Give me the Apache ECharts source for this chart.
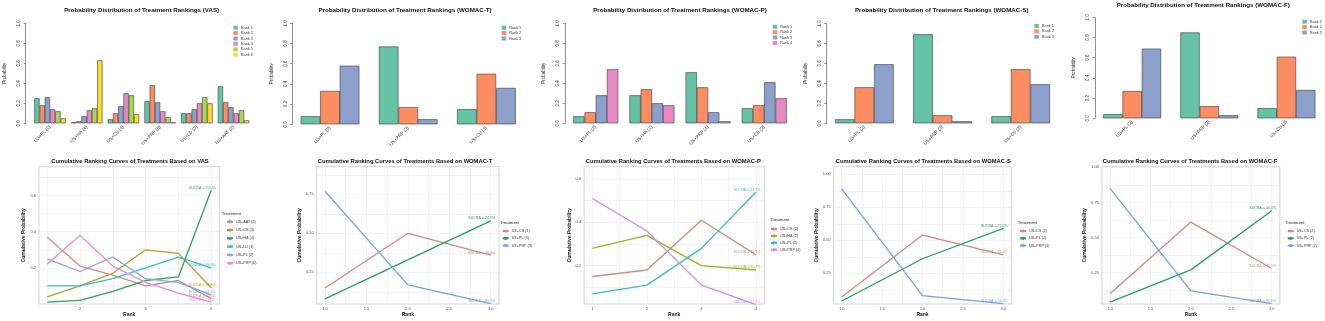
<!DOCTYPE html>
<html><head><meta charset="utf-8">
<script src="https://cdn.jsdelivr.net/npm/echarts@6/dist/echarts.min.js"></script>
<style>html,body{margin:0;padding:0;background:#fff}#c{width:1325px;height:321px}</style>
</head><body><div id="c"></div>
<script>
// ================= DATA =================
const rankNames = ['Rank 1', 'Rank 2', 'Rank 3', 'Rank 4', 'Rank 5', 'Rank 6'];

// VAS (6 treatments x 6 ranks)
const vasTreatments = ['US+PL (2)', 'US+HA (4)', 'US+CS (4)', 'US+PRP (6)', 'US+LD (3)', 'US+AAT (2)'];
const vasRankProb = [
  [0.25, 0.18, 0.26, 0.14, 0.12, 0.05],
  [0.01, 0.02, 0.07, 0.13, 0.15, 0.63],
  [0.04, 0.10, 0.17, 0.30, 0.28, 0.09],
  [0.22, 0.38, 0.21, 0.12, 0.06, 0.01],
  [0.10, 0.10, 0.14, 0.20, 0.26, 0.20],
  [0.37, 0.21, 0.16, 0.10, 0.13, 0.03]
];
const vasCurveNames = ['US+AAT (2)', 'US+CS (4)', 'US+HA (4)', 'US+LD (3)', 'US+PL (2)', 'US+PRP (6)'];
const vasSucra = ['SUCRA = 70.0%', 'SUCRA = 39.8%', 'SUCRA = 15.0%', 'SUCRA = 39.6%', 'SUCRA = 63.0%', 'SUCRA = 71.0%'];

// WOMAC-T
const womacTTreatments = ['US+PL (3)', 'US+PRP (3)', 'US+CS (3)'];
const womacTRankProb = [
  [0.08, 0.33, 0.58],
  [0.77, 0.17, 0.05],
  [0.15, 0.50, 0.36]
];
const womacTCurveNames = ['US+CS (3)', 'US+PL (3)', 'US+PRP (3)'];
const womacTSucra = ['SUCRA = 40.0%', 'SUCRA = 24.5%', 'SUCRA = 85.5%'];

// WOMAC-P
const womacPTreatments = ['US+PL (2)', 'US+HA (2)', 'US+PRP (4)', 'US+CS (2)'];
const womacPRankProb = [
  [0.07, 0.11, 0.28, 0.54],
  [0.28, 0.34, 0.20, 0.18],
  [0.51, 0.36, 0.11, 0.02],
  [0.15, 0.18, 0.41, 0.25]
];
const womacPCurveNames = ['US+CS (2)', 'US+HA (2)', 'US+PL (2)', 'US+PRP (4)'];
const womacPSucra = ['SUCRA = 39.7%', 'SUCRA = 55.7%', 'SUCRA = 21.7%', 'SUCRA = 77.7%'];

// WOMAC-S
const womacSTreatments = ['US+PL (2)', 'US+PRP (3)', 'US+CS (2)'];
const womacSRankProb = [
  [0.04, 0.36, 0.59],
  [0.89, 0.08, 0.02],
  [0.07, 0.54, 0.39]
];
const womacSCurveNames = ['US+CS (2)', 'US+PL (2)', 'US+PRP (3)'];
const womacSSucra = ['SUCRA = 33.0%', 'SUCRA = 21.0%', 'SUCRA = 93.0%'];

// WOMAC-F
const womacFTreatments = ['US+PL (2)', 'US+PRP (2)', 'US+CS (2)'];
const womacFRankProb = [
  [0.04, 0.27, 0.69],
  [0.85, 0.12, 0.03],
  [0.10, 0.61, 0.28]
];
const womacFCurveNames = ['US+CS (2)', 'US+PL (2)', 'US+PRP (2)'];
const womacFSucra = ['SUCRA = 40.5%', 'SUCRA = 16.0%', 'SUCRA = 91.0%'];

// Tick labels
const vasRankTicks = [2, 4, 6];
const vasRankMinor = [1, 3, 5];
const rank3Ticks = [1, 1.5, 2, 2.5, 3];
const rank3Minor = [1.25, 1.75, 2.25, 2.75];
const rank4Ticks = [1, 2, 3, 4];
const rank4Minor = [1.5, 2.5, 3.5];
const prob02Ticks = [0.2, 0.4, 0.6];
const prob02Minor = [0.1, 0.3, 0.5, 0.7];
const prob025Ticks = [0.25, 0.5, 0.75, 1.0];
const prob025Minor = [0.125, 0.375, 0.625, 0.875];

// ================= STYLE / LAYOUT =================
const FONT = 'Liberation Sans';
const set2 = ['#66C2A5', '#FC8D62', '#8DA0CB', '#E78AC3', '#A6D854', '#FFD92F'];
const hue6 = ['#CC8A80', '#ADA130', '#27A35C', '#36BDC0', '#7FA9DB', '#E389E1'];
const hue4 = ['#CC8A80', '#9AB320', '#36BDC0', '#C78FE6'];
const hue3 = ['#CC8A80', '#23A25A', '#72A6DA'];

const option = {
  animation: false, backgroundColor: '#ffffff',
  textStyle: { fontFamily: FONT },
  title: [], grid: [], xAxis: [], yAxis: [], legend: [], series: []
};

function addTitle(text, cx, cy, size, weight) {
  option.title.push({
    text, left: cx, top: cy - size / 2 - 0.5, textAlign: 'center', padding: 0,
    textStyle: { fontSize: size, fontWeight: weight || 'bold', color: '#111', fontFamily: FONT }
  });
}

function addBarPanel(key, title, treat, prob, L) {
  const gi = option.grid.length;
  const nT = treat.length, nR = prob[0].length;
  const range = nT * (nR + 1) - 1;
  const u = (L.lastR - L.firstL) / range;
  option.grid.push({ left: L.firstL - 0.5 * u, top: L.y1, width: nT * (nR + 1) * u, height: L.y0 - L.y1 });
  option.xAxis.push({
    gridIndex: gi, type: 'category', data: treat,
    axisLine: { show: false }, axisTick: { show: false }, splitLine: { show: false },
    axisLabel: { rotate: 45, fontSize: 4.6, color: '#333', margin: 3, interval: 0 }
  });
  option.yAxis.push({
    gridIndex: gi, type: 'value', min: 0, max: 1, interval: 0.2,
    offset: 0.04 * range * u - 0.5 * u,
    axisLine: { show: true, lineStyle: { color: '#444', width: 0.6 } },
    axisTick: { show: true, length: 2, lineStyle: { color: '#444', width: 0.6 } },
    axisLabel: { rotate: 90, fontSize: 4.5, color: '#333', margin: 4, formatter: v => v.toFixed(1) },
    splitLine: { show: false },
    name: 'Probability', nameLocation: 'middle', nameRotate: 90, nameGap: 18,
    nameTextStyle: { fontSize: 4.5, color: '#333' }
  });
  const names = [];
  for (let r = 0; r < nR; r++) {
    const nm = rankNames[r] + '#' + key;
    names.push(nm);
    option.series.push({
      type: 'bar', name: nm, xAxisIndex: gi, yAxisIndex: gi,
      data: prob.map(row => row[r]),
      barGap: '0%', barCategoryGap: (100 / (nR + 1)) + '%',
      itemStyle: { color: set2[r], borderColor: '#3a3a3a', borderWidth: 0.6 }
    });
  }
  option.legend.push({
    data: names, orient: 'vertical', left: L.legLeft, top: L.legTop,
    icon: 'rect', itemWidth: 4.5, itemHeight: 4, itemGap: 1.4, padding: 0,
    itemStyle: { borderWidth: 0 },
    formatter: n => n.split('#')[0],
    textStyle: { fontSize: 3.8, color: '#333', padding: [0, 0, 0, -2] }
  });
  addTitle(title, L.titleX, L.titleY, 6.2);
}

function addLinePanel(key, title, treat, prob, curveNames, sucra, colors, L) {
  const gi = option.grid.length;
  option.grid.push({ left: L.left, top: 166.7, width: L.width, height: 137.3, show: true, borderColor: '#c9c9c9', borderWidth: 0.8, backgroundColor: '#fff' });
  const gridLine = { show: true, lineStyle: { color: '#ebebeb', width: 0.6 } };
  option.xAxis.push({
    gridIndex: gi, type: 'value', min: L.xmin, max: L.xmax,
    axisLine: { show: false },
    axisTick: { show: false, customValues: L.xMajor.concat(L.xMinor) },
    axisLabel: { customValues: L.xMajor, fontSize: 4, color: '#4d4d4d', margin: 3, formatter: v => v.toFixed(L.xDec) },
    splitLine: gridLine,
    name: 'Rank', nameLocation: 'middle', nameGap: 7,
    nameTextStyle: { fontSize: 5, fontWeight: 'bold', color: '#222' }
  });
  option.yAxis.push({
    gridIndex: gi, type: 'value', min: L.ymin, max: L.ymax,
    axisLine: { show: false },
    axisTick: { show: false, customValues: L.yMajor.concat(L.yMinor) },
    axisLabel: { customValues: L.yMajor, fontSize: 4, color: '#4d4d4d', margin: 3, formatter: v => v.toFixed(L.yDec) },
    splitLine: gridLine,
    name: 'Cumulative Probability', nameLocation: 'middle', nameRotate: 90, nameGap: L.yNameGap,
    nameTextStyle: { fontSize: 5, fontWeight: 'bold', color: '#222' }
  });
  const names = [];
  curveNames.forEach((cn, ci) => {
    const idx = treat.indexOf(cn);
    const row = prob[idx >= 0 ? idx : ci];
    const nm = cn + '#' + key;
    names.push(nm);
    option.series.push({
      type: 'line', name: nm, xAxisIndex: gi, yAxisIndex: gi,
      data: row.map((v, i) => [i + 1, v]),
      symbol: 'none', lineStyle: { color: colors[ci], width: 1.3 }, itemStyle: { color: colors[ci] },
      endLabel: { show: true, formatter: sucra[ci], fontSize: 3.6, color: colors[ci], distance: 0, align: 'center', verticalAlign: 'bottom', offset: [-9, -0.5] },
      z: 3
    });
  });
  option.legend.push({
    data: names, orient: 'vertical', left: L.legLeft, top: L.legTop,
    itemWidth: 6, itemHeight: 4, itemGap: L.legGap, padding: 0,
    formatter: n => n.split('#')[0],
    textStyle: { fontSize: 3.7, color: '#333', padding: [0, 0, 0, -2], width: 22, overflow: 'truncate', ellipsis: '' }
  });
  option.title.push({
    text: 'Treatment', left: L.legTitleX, top: L.legTitleY - 2.3, padding: 0,
    textStyle: { fontSize: 4.3, fontWeight: 'normal', color: '#222', fontFamily: FONT }
  });
  addTitle(title, L.titleX, 161.7, 5.8);
}

// ---- top row: rank probability bar charts ----
addBarPanel('VAS', 'Probability Distribution of Treatment Rankings (VAS)', vasTreatments, vasRankProb,
  { firstL: 34.3, lastR: 249.3, y1: 23.3, y0: 123.3, legLeft: 233.3, legTop: 25.7, titleX: 141.7, titleY: 10.7 });
addBarPanel('T', 'Probability Distribution of Treatment Rankings (WOMAC-T)', womacTTreatments, womacTRankProb,
  { firstL: 300.7, lastR: 515.7, y1: 23.3, y0: 124.3, legLeft: 501.7, legTop: 25.7, titleX: 405, titleY: 10.7 });
addBarPanel('P', 'Probability Distribution of Treatment Rankings (WOMAC-P)', womacPTreatments, womacPRankProb,
  { firstL: 573.3, lastR: 786.7, y1: 23.3, y0: 123.3, legLeft: 772.7, legTop: 24.7, titleX: 680, titleY: 10.7 });
addBarPanel('S', 'Probability Distribution of Treatment Rankings (WOMAC-S)', womacSTreatments, womacSRankProb,
  { firstL: 835, lastR: 1050, y1: 23.3, y0: 123.3, legLeft: 1034.3, legTop: 24, titleX: 941.7, titleY: 10.7 });
addBarPanel('F', 'Probability Distribution of Treatment Rankings (WOMAC-F)', womacFTreatments, womacFRankProb,
  { firstL: 1103.3, lastR: 1316.7, y1: 17.3, y0: 118.3, legLeft: 1302.3, legTop: 19.7, titleX: 1203.3, titleY: 5.7 });

// ---- bottom row: ranking curves ----
addLinePanel('VASc', 'Cumulative Ranking Curves of Treatments Based on VAS', vasTreatments, vasRankProb, vasCurveNames, vasSucra, hue6,
  { left: 39, width: 180.4, xmin: 0.75, xmax: 6.25, xMajor: vasRankTicks, xMinor: vasRankMinor, xDec: 0,
    ymin: 0, ymax: 0.76, yMajor: prob02Ticks, yMinor: prob02Minor, yDec: 1, yNameGap: 8,
    legLeft: 226, legTop: 219.7, legGap: 4.3, legTitleX: 221.7, legTitleY: 214, titleX: 130 });
addLinePanel('Tc', 'Cumulative Ranking Curves of Treatments Based on WOMAC-T', womacTTreatments, womacTRankProb, womacTCurveNames, womacTSucra, hue3,
  { left: 316.7, width: 182.3, xmin: 0.9, xmax: 3.1, xMajor: rank3Ticks, xMinor: rank3Minor, xDec: 1,
    ymin: 0.047, ymax: 0.927, yMajor: prob025Ticks.slice(0, 3), yMinor: prob025Minor, yDec: 2, yNameGap: 11,
    legLeft: 501.7, legTop: 229, legGap: 3.3, legTitleX: 500, legTitleY: 223, titleX: 405 });
addLinePanel('Pc', 'Cumulative Ranking Curves of Treatments Based on WOMAC-P', womacPTreatments, womacPRankProb, womacPCurveNames, womacPSucra, hue4,
  { left: 584.1, width: 180.1, xmin: 0.85, xmax: 4.15, xMajor: rank4Ticks, xMinor: rank4Minor, xDec: 0,
    ymin: 0.023, ymax: 0.657, yMajor: prob02Ticks, yMinor: prob02Minor, yDec: 1, yNameGap: 11.5,
    legLeft: 770, legTop: 227, legGap: 2.9, legTitleX: 770, legTitleY: 220.5, titleX: 673.3 });
addLinePanel('Sc', 'Cumulative Ranking Curves of Treatments Based on WOMAC-S', womacSTreatments, womacSRankProb, womacSCurveNames, womacSSucra, hue3,
  { left: 833.6, width: 177.8, xmin: 0.9, xmax: 3.1, xMajor: rank3Ticks, xMinor: rank3Minor, xDec: 1,
    ymin: 0.017, ymax: 1.058, yMajor: prob025Ticks, yMinor: prob025Minor, yDec: 2, yNameGap: 13,
    legLeft: 1019, legTop: 229, legGap: 3.3, legTitleX: 1017.7, legTitleY: 223, titleX: 923.3 });
addLinePanel('Fc', 'Cumulative Ranking Curves of Treatments Based on WOMAC-F', womacFTreatments, womacFRankProb, womacFCurveNames, womacFSucra, hue3,
  { left: 1101.9, width: 177.9, xmin: 0.9, xmax: 3.1, xMajor: rank3Ticks, xMinor: rank3Minor, xDec: 1,
    ymin: 0.027, ymax: 1.004, yMajor: prob025Ticks, yMinor: prob025Minor, yDec: 2, yNameGap: 11,
    legLeft: 1286.7, legTop: 229, legGap: 3.3, legTitleX: 1285, legTitleY: 223, titleX: 1190 });

const chart = echarts.init(document.getElementById('c'), null, { renderer: 'canvas' });
chart.setOption(option);
</script>
</body></html>
